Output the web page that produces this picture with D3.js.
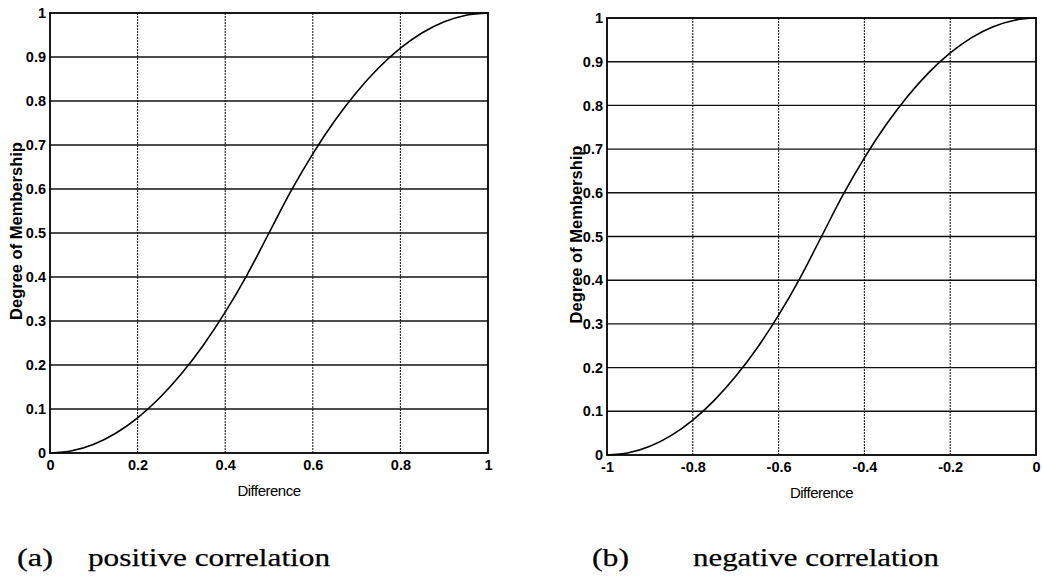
<!DOCTYPE html>
<html>
<head>
<meta charset="utf-8">
<script src="https://cdn.jsdelivr.net/npm/d3@7"></script>
<style>
  body { margin: 0; background: #fff; }
  svg { display: block; }
</style>
</head>
<body>
<script>
// values (same S-shaped curve, second one shifted to [-1,0])
var diffPos = [0, 0.05, 0.1, 0.15, 0.2, 0.25, 0.3, 0.35, 0.4, 0.45, 0.5,
               0.55, 0.6, 0.65, 0.7, 0.75, 0.8, 0.85, 0.9, 0.95, 1];
var diffNeg = [-1, -0.95, -0.9, -0.85, -0.8, -0.75, -0.7, -0.65, -0.6, -0.55, -0.5,
               -0.45, -0.4, -0.35, -0.3, -0.25, -0.2, -0.15, -0.1, -0.05, 0];
var membership = [0, 0.005, 0.02, 0.045, 0.08, 0.125, 0.18, 0.245, 0.32, 0.405, 0.5,
                  0.595, 0.68, 0.755, 0.82, 0.875, 0.92, 0.955, 0.98, 0.995, 1];

var xTicksPos = [0, 0.2, 0.4, 0.6, 0.8, 1];
var xTicksNeg = [-1, -0.8, -0.6, -0.4, -0.2, 0];
var yTicks = [0, 0.1, 0.2, 0.3, 0.4, 0.5, 0.6, 0.7, 0.8, 0.9, 1];

var svg = d3.select("body").append("svg")
    .attr("width", 1043)
    .attr("height", 579);

var sans = "'Liberation Sans', Arial, sans-serif";
var serif = "'Liberation Serif', 'Times New Roman', serif";

function drawPanel(box, xs, ys, xTicks, caption) {
    var x = d3.scaleLinear().domain(d3.extent(xTicks)).range([box.left, box.right]);
    var y = d3.scaleLinear().domain([0, 1]).range([box.bottom, box.top]);
    var g = svg.append("g");

    // grid
    g.selectAll(".vgrid").data(xTicks.slice(1, -1)).enter()
        .append("line")
        .attr("x1", d => x(d)).attr("x2", d => x(d))
        .attr("y1", box.top).attr("y2", box.bottom)
        .attr("stroke", "#222").attr("stroke-width", 1.1)
        .attr("stroke-dasharray", "2,1");
    g.selectAll(".hgrid").data(yTicks.slice(1, -1)).enter()
        .append("line")
        .attr("x1", box.left).attr("x2", box.right)
        .attr("y1", d => y(d)).attr("y2", d => y(d))
        .attr("stroke", "#111").attr("stroke-width", 1.4);

    // frame
    g.append("rect")
        .attr("x", box.left).attr("y", box.top)
        .attr("width", box.right - box.left).attr("height", box.bottom - box.top)
        .attr("fill", "none").attr("stroke", "#000").attr("stroke-width", 1.8);

    // axes (labels only, ticks hidden under grid)
    var xAxis = g.append("g")
        .attr("transform", "translate(0," + box.bottom + ")")
        .call(d3.axisBottom(x).tickValues(xTicks).tickSize(0).tickPadding(7)
              .tickFormat(String));
    var yAxis = g.append("g")
        .attr("transform", "translate(" + box.left + ",0)")
        .call(d3.axisLeft(y).tickValues(yTicks).tickSize(0).tickPadding(4)
              .tickFormat(String));
    [xAxis, yAxis].forEach(function(a) {
        a.select(".domain").remove();
        a.selectAll("text")
            .attr("fill", "#000")
            .style("font-family", sans)
            .style("font-size", "14.5px")
            .style("font-weight", "bold");
    });

    // curve
    var line = d3.line()
        .x(function(d, i) { return x(xs[i]); })
        .y(function(d) { return y(d); })
        .curve(d3.curveMonotoneX);
    g.append("path")
        .attr("d", line(ys))
        .attr("fill", "none")
        .attr("stroke", "#000")
        .attr("stroke-width", 1.6);

    // titles
    g.append("text")
        .attr("x", (box.left + box.right) / 2)
        .attr("y", box.bottom + 43)
        .attr("text-anchor", "middle")
        .style("font-family", sans)
        .style("font-size", "15px")
        .style("letter-spacing", "-0.5px")
        .text("Difference");
    g.append("text")
        .attr("transform", "translate(" + box.ylabelX + "," + ((box.top + box.bottom) / 2 - 2) + ") rotate(-90)")
        .attr("text-anchor", "middle")
        .style("font-family", sans)
        .style("font-size", "16.5px")
        .style("font-weight", "bold")
        .text("Degree of Membership");

    // caption
    g.append("text")
        .attr("x", caption.x1).attr("y", 566)
        .attr("textLength", caption.w1).attr("lengthAdjust", "spacingAndGlyphs")
        .style("font-family", serif)
        .style("font-size", "26px")
        .style("stroke", "#000").style("stroke-width", 0.25)
        .text(caption.tag);
    g.append("text")
        .attr("x", caption.x2).attr("y", 566)
        .attr("textLength", caption.w2).attr("lengthAdjust", "spacingAndGlyphs")
        .style("font-family", serif)
        .style("font-size", "26px")
        .style("stroke", "#000").style("stroke-width", 0.25)
        .text(caption.text);
}

drawPanel({left: 50, right: 488, top: 13, bottom: 453, ylabelX: 22},
          diffPos, membership, xTicksPos,
          {tag: "(a)", text: "positive correlation", x1: 17, w1: 36, x2: 88, w2: 242});
drawPanel({left: 607, right: 1036, top: 18, bottom: 455, ylabelX: 582},
          diffNeg, membership, xTicksNeg,
          {tag: "(b)", text: "negative correlation", x1: 592, w1: 37, x2: 693, w2: 246});
</script>
</body>
</html>
